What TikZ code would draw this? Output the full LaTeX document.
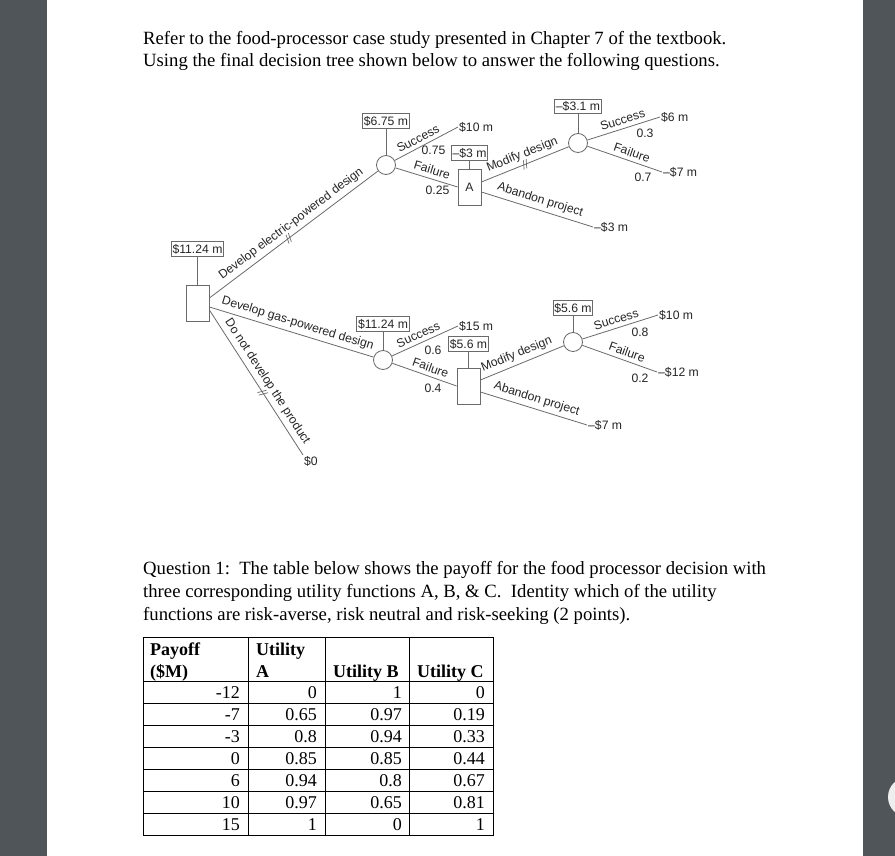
\documentclass[tikz,border=0pt]{standalone}
\usepackage{fontspec}
\setmainfont{Liberation Serif}
\newfontfamily\treefont{Liberation Sans}
\definecolor{bggray}{HTML}{50555A}
\definecolor{treeline}{HTML}{6A6A6A}
\definecolor{treetext}{HTML}{262626}
\definecolor{btn}{HTML}{EEEEEE}
\tikzset{
  body/.style={anchor=base west, inner sep=0, font=\fontsize{18.7}{23}\selectfont, text=black},
  hdr/.style={anchor=base west, inner sep=0, font=\fontsize{18}{23}\selectfont\bfseries, text=black},
  cell/.style={anchor=base east, inner sep=0, font=\fontsize{18}{23}\selectfont, text=black},
  tbl/.style={draw=black, line width=0.9pt},
  treefnt/.style={font=\treefont\fontsize{12.2}{13}\selectfont, text=treetext},
  val/.style={treefnt, draw=treeline, line width=0.8pt, rectangle, inner xsep=1.2pt, inner ysep=0pt, minimum height=14.5pt},
  decbox/.style={treefnt, draw=treeline, line width=0.8pt, rectangle, minimum width=23pt, minimum height=36pt, inner sep=0pt},
  chance/.style={draw=treeline, line width=0.8pt, circle, minimum size=19pt, inner sep=0pt, fill=white},
  branch/.style={draw=treeline, line width=0.8pt},
  lab/.style={treefnt, inner sep=1pt},
  slab/.style={lab, sloped, above=2.8pt},
  endlab/.style={lab, anchor=west},
  hashmk/.style={sloped, inner sep=0pt, minimum width=5pt, minimum height=8pt},
  hashline/.style={draw=treeline, line width=0.7pt}
}
\begin{document}
\begin{tikzpicture}[x=1pt, y=-1pt]
\useasboundingbox (0,0) rectangle (895,856);
% page background
\fill[bggray] (0,0) rectangle (895,856);
\fill[white] (47,0) rectangle (863,856);
\fill[btn] (908,797) circle (20);

% intro text
\node[body] (p1) at (143,45) {Refer to the food-processor case study presented in Chapter 7 of the textbook.};
\node[body] (p2) at (143,67) {Using the final decision tree shown below to answer the following questions.};

% ---------- decision tree ----------
\node[decbox] (d0) at (197.5,303.5) {};
\node[val] (v0) at (197.5,249) {\$11.24 m};
\draw[branch] (v0.south) -- (d0.north);

% electric branch
\node[chance] (c1) at (386,165) {};
\node[val] (v1) at (386,121) {\$6.75 m};
\draw[branch] (v1.south) -- (c1.north);
\node[decbox] (dA) at (469.5,187) {A};
\node[val] (vA) at (469.5,153) {\textendash\$3 m};
\draw[branch] (vA.south) -- (dA.north);
\node[chance] (c2) at (578,143) {};
\node[val] (v2) at (578,106.5) {\textendash\$3.1 m};
\draw[branch] (v2.south) -- (c2.north);
\node[endlab] (t1) at (458,127) {\$10 m};
\node[endlab] (t2) at (660,117) {\$6 m};
\node[endlab] (t3) at (662,172) {\textendash\$7 m};
\node[endlab] (t4) at (593,227) {\textendash\$3 m};

\draw[branch] ([yshift=5.5pt]d0.east) -- (c1)
  node[slab, pos=0.52] (l1) {Develop electric-powered design}
  node[hashmk, pos=0.47] (h1) {};
\draw[branch] (c1) -- (t1.west) node[slab, pos=0.43] (l2) {Success};
\draw[branch] (c1) -- (dA.west) node[slab, pos=0.55] (l3) {Failure};
\draw[branch] ([yshift=5pt]dA.east) -- (c2)
  node[slab, pos=0.51] (l4) {Modify design}
  node[hashmk, pos=0.5] (h2) {};
\draw[branch] ([yshift=-5pt]dA.east) -- (t4.west) node[slab, pos=0.5] (l5) {Abandon project};
\draw[branch] (c2) -- (t2.west) node[slab, pos=0.52] (l6) {Success};
\draw[branch] (c2) -- (t3.west) node[slab, pos=0.56] (l7) {Failure};
\node[lab] (q1) at (433.5,150) {0.75};
\node[lab] (q2) at (437.5,190) {0.25};
\node[lab] (q3) at (645,133) {0.3};
\node[lab] (q4) at (643,177) {0.7};

% gas branch
\node[chance] (c3) at (383,360) {};
\node[val] (v3) at (383,324) {\$11.24 m};
\draw[branch] (v3.south) -- (c3.north);
\node[decbox] (dB) at (468.5,386) {};
\node[val] (vB) at (468.5,344) {\$5.6 m};
\draw[branch] (vB.south) -- (dB.north);
\node[chance] (c4) at (573,342) {};
\node[val] (v4) at (573,308) {\$5.6 m};
\draw[branch] (v4.south) -- (c4.north);
\node[endlab] (t5) at (458,326) {\$15 m};
\node[endlab] (t6) at (658,315) {\$10 m};
\node[endlab] (t7) at (657,372) {\textendash\$12 m};
\node[endlab] (t8) at (587,425) {\textendash\$7 m};
\node[lab, anchor=north west] (t9) at (303,455) {\$0};

\draw[branch] ([yshift=-3.5pt]d0.east) -- (c3)
  node[slab, pos=0.52] (l8) {Develop gas-powered design};
\draw[branch] (c3) -- (t5.west) node[slab, pos=0.45] (l9) {Success};
\draw[branch] (c3) -- (dB.west) node[slab, pos=0.55] (l10) {Failure};
\draw[branch] ([yshift=6pt]dB.east) -- (c4) node[slab, pos=0.48] (l11) {Modify design};
\draw[branch] ([yshift=-6pt]dB.east) -- (t8.west) node[slab, pos=0.5] (l12) {Abandon project};
\draw[branch] (c4) -- (t6.west) node[slab, pos=0.48] (l13) {Success};
\draw[branch] (c4) -- (t7.west) node[slab, pos=0.56] (l14) {Failure};
\node[lab] (q5) at (433,350) {0.6};
\node[lab] (q6) at (433,388) {0.4};
\node[lab] (q7) at (640,332) {0.8};
\node[lab] (q8) at (640,378) {0.2};

% do not develop
\draw[branch] ([yshift=-6.5pt]d0.east) -- (t9.north west)
  node[slab, pos=0.53] (l15) {Do not develop the product}
  node[hashmk, pos=0.57] (h3) {};

% hash marks
\foreach \h in {h1,h2,h3}{
  \draw[hashline] (\h.south west) -- (\h.north) (\h.south) -- (\h.north east);
}

% ---------- question ----------
\node[body] (s1) at (143,574) {Question 1:\ \ The table below shows the payoff for the food processor decision with};
\node[body] (s2) at (143,597) {three corresponding utility functions A, B, \& C.\ \ Identity which of the utility};
\node[body] (s3) at (143,620) {functions are risk-averse, risk neutral and risk-seeking (2 points).};

% ---------- table ----------
\draw[tbl] (143,637) rectangle (493,835);
\foreach \x in {248,325,409} \draw[tbl] (\x,637) -- (\x,835);
\foreach \y in {681,703,725,747,769,791,813} \draw[tbl] (143,\y) -- (493,\y);
\node[hdr] (hA1) at (150,655) {Payoff};
\node[hdr] (hA2) at (150,677) {(\$M)};
\node[hdr] (hB1) at (256,655) {Utility};
\node[hdr] (hB2) at (256,677) {A};
\node[hdr] (hC) at (333,677) {Utility B};
\node[hdr] (hD) at (417,677) {Utility C};
\foreach \p/\a/\b/\c [count=\k from 0] in {-12/0/1/0, -7/0.65/0.97/0.19, -3/0.8/0.94/0.33, 0/0.85/0.85/0.44, 6/0.94/0.8/0.67, 10/0.97/0.65/0.81, 15/1/0/1}{
  \node[cell] (ra\k) at (240,698+22*\k) {\p};
  \node[cell] (rb\k) at (317,698+22*\k) {\a};
  \node[cell] (rc\k) at (402,698+22*\k) {\b};
  \node[cell] (rd\k) at (485,698+22*\k) {\c};
}
\end{tikzpicture}
\end{document}
